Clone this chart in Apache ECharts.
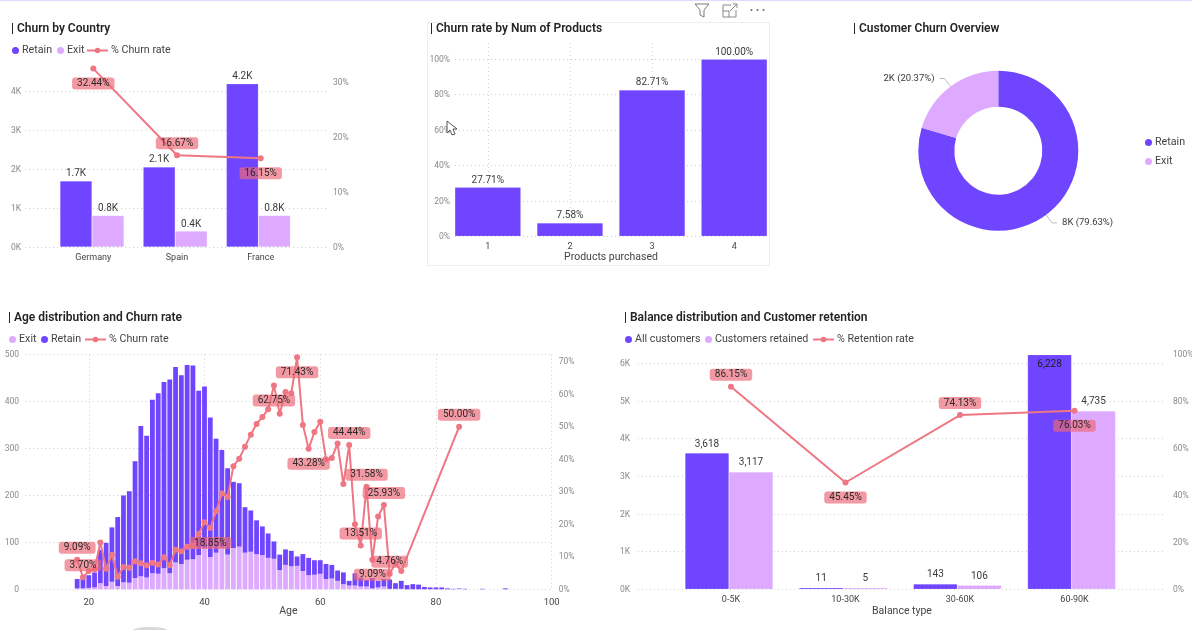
<!DOCTYPE html>
<html><head><meta charset="utf-8">
<style>html,body{margin:0;padding:0;background:#fff}#c{width:1192px;height:630px}</style>
<script src="https://cdn.jsdelivr.net/npm/echarts@6/dist/echarts.min.js"></script>
</head><body><div id="c"></div>
<script>
// ---- data ----
const countries = ['Germany','Spain','France'];
const countryRetain = [1700,2060,4200];
const countryExit = [810,410,810];
const countryChurn = [32.44,16.67,16.15];

const products = ['1','2','3','4'];
const productChurn = [27.71,7.58,82.71,100];

const overviewNames = ['Retain','Exit'];
const overviewValues = [7963,2037];
const overviewLabels = ['8K (79.63%)','2K (20.37%)'];

const ages = [18,19,20,21,22,23,24,25,26,27,28,29,30,31,32,33,34,35,36,37,38,39,40,41,42,43,44,45,46,47,48,49,50,51,52,53,54,55,56,57,58,59,60,61,62,63,64,65,66,67,68,69,70,71,72,73,74,75,76,77,78,79,80,81,82,83,84,85,86,87,88,89,90,91,92];
const ageExit = [2,2,3,4,13,7,16,7,15,14,24,28,25,34,33,45,34,57,54,63,64,73,88,69,78,89,74,88,91,78,80,75,73,67,65,41,52,49,50,39,30,31,33,22,23,18,11,8,8,6,6,2,4,6,1,1,1,0,0,0,0,0,0,0,0,0,1,0,0,0,0,0,0,0,0];
const ageRetain = [20,20,27,32,71,92,116,147,185,195,249,320,302,370,385,397,413,417,402,415,413,350,344,297,243,208,184,141,135,97,88,72,61,52,37,33,33,33,20,36,37,31,29,32,29,22,25,10,26,19,14,22,14,16,20,12,17,9,11,10,5,4,4,4,2,1,1,1,0,0,1,0,0,0,2];
const ageChurn = [9.09,3.70,5.6,6.2,14.4,6.3,10.6,3.9,6.9,6.6,8.6,8.0,7.4,8.2,7.6,9.9,7.4,12.2,11.7,13.1,13.4,17.0,20.6,18.85,24.0,29.5,28.4,37.9,40.2,43.9,47.6,50.9,53.0,55.4,62.75,54.0,60.7,60.3,71.43,50.6,43.28,48.4,51.6,40.0,40.4,44.9,32.4,44.44,20.0,13.51,31.58,9.09,22.4,25.93,4.76,8.0,5.6,null,null,null,null,null,null,null,null,null,50.0,null,null,null,null,null,null,null,null];
const ageTicks = ['20','40','60','80','100'];

const balanceTypes = ['0-5K','10-30K','30-60K','60-90K'];
const balanceAll = [3618,11,143,6228];
const balanceRetained = [3117,5,106,4735];
const balanceRate = [86.15,45.45,74.13,76.03];

// ---- label placement ----
const countryLabelPos = ['bottom','top','bottom'];
const balanceLabelPos = ['top','bottom','top','bottom'];
const ageLabelPos = {18:'top',19:'top',41:'bottom',52:'bottom',56:'bottom',58:'bottom',65:'top',67:'top',68:'top',69:'bottom',71:'top',72:'top',84:'top'};

// ---- style ----
const PURPLE='#7045FF', LILAC='#DDAAFF', RED='#EF7683';
const FONT='Roboto, "Open Sans", sans-serif';
const dotted={type:[1,3],color:'#cfcfcf',width:1};
const pct=v=>v+'%';
const rateLabel={color:'#2a2a2a',fontSize:10,fontFamily:FONT,backgroundColor:'rgba(238,105,120,0.68)',borderRadius:3,padding:[1,5],formatter:p=>p.value[1].toFixed(2)+'%'};
const pointLabel=pos=>({show:true,position:pos,distance:pos==='top'?3:6});

const grid=[
 {left:25,right:1192-327,top:60,height:187,outerBoundsMode:'none'},
 {left:455,right:1192-767,top:43,height:193.3,outerBoundsMode:'none'},
 {left:25.1,right:1192-551.7,top:354.7,height:234.6,outerBoundsMode:'none'},
 {left:638,right:1192-1166,top:354.3,height:235,outerBoundsMode:'none'}
];
function xCat(g,min,max,names,extra){
  return Object.assign({type:'value',gridIndex:g,min,max,
    axisLine:{show:false},axisTick:{show:false,customValues:names.map((_,i)=>i)},splitLine:{show:false},
    axisLabel:{customValues:names.map((_,i)=>i),formatter:v=>names[v],color:'#444',fontSize:9,fontFamily:FONT,margin:6,hideOverlap:false}},extra||{});
}
const hiddenX=(g,min,max)=>({type:'value',gridIndex:g,min,max,show:false});
function yVal(g,max,interval,fmt,split,margin){
  return {type:'value',gridIndex:g,min:0,max,interval,position:split?'left':'right',
    axisLine:{show:false},axisTick:{show:false},
    splitLine:{show:split,lineStyle:dotted,showMaxLine:false},
    axisLabel:{formatter:fmt,color:'#8a8a8a',fontSize:8.5,fontFamily:FONT,margin:margin,showMaxLabel:false,verticalAlign:'top',padding:[-4,0,0,0]}};
}
const kFmt=v=>(v/1000)+'K';
const axisName={color:'#444',fontSize:10.5,fontFamily:FONT};
const ageAxisValues=Array.from({length:92},(_,i)=>String(9+i));
const isAgeTick=(i,v)=>ageTicks.indexOf(v)>=0;
const xAxis=[
 xCat(0,-0.816,2.792,countries),
 xCat(1,-0.4,3.4,products,{splitLine:{show:true,lineStyle:dotted},name:'Products purchased',nameLocation:'middle',nameGap:16,nameTextStyle:axisName}),
 {type:'category',gridIndex:2,data:ageAxisValues,boundaryGap:false,axisLine:{show:false},axisTick:{show:false},
  splitLine:{show:true,lineStyle:dotted,interval:isAgeTick},
  axisLabel:{interval:isAgeTick,color:'#444',fontSize:9.5,fontFamily:FONT,margin:8},
  name:'Age',nameLocation:'middle',nameGap:17,nameMoveOverlap:false,nameTextStyle:axisName},
 xCat(3,-0.812,3.799,balanceTypes,{name:'Balance type',nameLocation:'middle',nameGap:17,nameTextStyle:axisName}),
 hiddenX(0,-0.805,2.825),
 hiddenX(3,-0.797,3.827)
];
const yAxis=[
 yVal(0,4813,1000,kFmt,true,4),
 yVal(0,34,10,pct,false,6),
 yVal(1,109.2,20,pct,true,5),
 yVal(2,500,100,v=>v,true,6),
 yVal(2,72.2,10,pct,false,7),
 yVal(3,6238,1000,kFmt,true,8),
 yVal(3,100,20,pct,false,7)
];
yAxis[3].axisLabel.showMaxLabel=true;
yAxis[3].splitLine.showMaxLine=true;
yAxis[6].axisLabel.showMaxLabel=true;

function bar(name,x,y,data,color,width,lab){
  return {type:'bar',name,xAxisIndex:x,yAxisIndex:y,data,barWidth:width,barGap:0,
    itemStyle:{color,borderColor:'rgba(255,255,255,0.35)',borderWidth:0.5},
    label:lab?Object.assign({show:true,position:'top',color:'#3a3a3a',fontSize:10,fontFamily:FONT,distance:2},lab):{show:false},
    emphasis:{disabled:true},animation:false};
}
function line(name,x,y,data,extra){
  return Object.assign({type:'line',name,xAxisIndex:x,yAxisIndex:y,data,symbol:'circle',symbolSize:6,showSymbol:true,showAllSymbol:true,z:10,
    lineStyle:{color:RED,width:2},itemStyle:{color:RED},emphasis:{disabled:true},animation:false},extra||{});
}
const kLabel={formatter:p=>(p.value[1]/1000).toFixed(1)+'K'};
const pctLabel={formatter:p=>p.value[1].toFixed(2)+'%'};
const numLabel={distance:4,formatter:p=>p.value[1].toLocaleString('en-US')};

const series=[
 bar('Retain',4,0,countryRetain.map((v,i)=>[i,v]),PURPLE,32,kLabel),
 bar('Exit',4,0,countryExit.map((v,i)=>[i,v]),LILAC,32,kLabel),
 line('% Churn rate',0,1,countryChurn.map((v,i)=>({value:[i,v],label:pointLabel(countryLabelPos[i])})),{label:rateLabel}),

 bar('Churn rate',1,2,productChurn.map((v,i)=>[i,v]),PURPLE,66,pctLabel),

 {type:'pie',name:'Overview',center:[998.3,150.7],radius:[44,80],startAngle:90,animation:false,
  data:overviewNames.map((n,i)=>({name:n,value:overviewValues[i],itemStyle:{color:i?LILAC:PURPLE}})),
  label:{formatter:p=>overviewLabels[p.dataIndex],color:'#3a3a3a',fontSize:9.5,fontFamily:FONT},
  labelLine:{length:10,length2:5,lineStyle:{color:'#bdbdbd'}},emphasis:{disabled:true}},

 Object.assign(bar('Exit',2,3,ages.map((a,i)=>[String(a),ageExit[i]]),LILAC,4.8),{stack:'age',itemStyle:{color:LILAC}}),
 Object.assign(bar('Retain',2,3,ages.map((a,i)=>[String(a),ageRetain[i]]),PURPLE,4.8),{stack:'age',itemStyle:{color:PURPLE}}),
 line('% Churn rate',2,4,ages.map((a,i)=>{
    const pos=ageLabelPos[a];
    return pos?{value:[String(a),ageChurn[i]],label:pointLabel(pos)}:{value:[String(a),ageChurn[i]]};
  }),{connectNulls:true,label:rateLabel}),

 Object.assign(bar('All customers',5,5,balanceAll.map((v,i)=>({value:[i,v],label:i===3?{position:'insideTop',color:'#1f1f1f',distance:5}:undefined})),PURPLE,44,numLabel),{barMinHeight:1.5}),
 Object.assign(bar('Customers retained',5,5,balanceRetained.map((v,i)=>[i,v]),LILAC,44,numLabel),{barMinHeight:1.5}),
 line('% Retention rate',3,6,balanceRate.map((v,i)=>({value:[i,v],label:pointLabel(balanceLabelPos[i])})),{label:rateLabel})
];

const legTxt={color:'#444',fontSize:10.7,fontFamily:FONT,padding:[0,0,0,-2]};
const legendDot=(left,top,name)=>({left,top,data:[{name,icon:'circle'}],itemWidth:7,itemHeight:7,padding:0,textStyle:legTxt,selectedMode:false,itemStyle:{borderWidth:0}});
const legendLine=(left,top,name)=>({left,top,data:[name],itemWidth:21,itemHeight:7,padding:0,textStyle:legTxt,selectedMode:false});
const legend=[
 legendDot(12,45,'Retain'),legendDot(57,45,'Exit'),legendLine(86,45,'% Churn rate'),
 legendDot(9,334,'Exit'),legendDot(41,334,'Retain'),legendLine(84,334,'% Churn rate'),
 legendDot(625,334,'All customers'),legendDot(705,334,'Customers retained'),legendLine(812,334,'% Retention rate'),
 legendDot(1145,137,'Retain'),legendDot(1145,156,'Exit')
];
const ttl=(text,left,top)=>({text,left,top,padding:0,textStyle:{color:'#252423',fontSize:12,fontWeight:600,fontFamily:FONT}});
const title=[
 ttl('| Churn by Country',11,23),ttl('| Churn rate by Num of Products',430,23),ttl('| Customer Churn Overview',853,23),
 ttl('| Age distribution and Churn rate',8,312),ttl('| Balance distribution and Customer retention',624,312)
];
const graphic=[
 {type:'rect',z:-1,shape:{x:0,y:0,width:1192,height:1},style:{fill:'#DEDAFB'},silent:true},
 {type:'rect',z:-1,shape:{x:427.5,y:22.5,width:342,height:243},style:{fill:'#fff',stroke:'#EEEEEE',lineWidth:1},silent:true},
 {type:'polyline',shape:{points:[[695,4],[709,4],[704,10],[704,17],[700,15],[700,10],[695,4]]},style:{fill:'none',stroke:'#7a7a7a',lineWidth:1},silent:true},
 {type:'polyline',shape:{points:[[731,5],[723,5],[723,17],[736,17],[736,10]]},style:{fill:'none',stroke:'#8a8a8a',lineWidth:1},silent:true},
 {type:'polyline',shape:{points:[[723,11],[729,11],[729,17]]},style:{fill:'none',stroke:'#8a8a8a',lineWidth:1},silent:true},
 {type:'polyline',shape:{points:[[730,11],[737,4]]},style:{fill:'none',stroke:'#8a8a8a',lineWidth:1},silent:true},
 {type:'polyline',shape:{points:[[733,4],[737,4],[737,8]]},style:{fill:'none',stroke:'#8a8a8a',lineWidth:1},silent:true},
 {type:'circle',shape:{cx:751.5,cy:10,r:1},style:{fill:'#666'},silent:true},
 {type:'circle',shape:{cx:757.5,cy:10,r:1},style:{fill:'#666'},silent:true},
 {type:'circle',shape:{cx:763.5,cy:10,r:1},style:{fill:'#666'},silent:true},
 {type:'polygon',z:50,shape:{points:[[447,121],[447,133],[450,130],[452,135],[455,134],[453,129],[457,129]]},style:{fill:'#fff',stroke:'#555',lineWidth:1},silent:true},
 {type:'ellipse',shape:{cx:150,cy:631,rx:18,ry:4},style:{fill:'#d8d8d8'},silent:true}
];
const chart=echarts.init(document.getElementById('c'),null,{renderer:'canvas'});
chart.setOption({animation:false,textStyle:{fontFamily:FONT},title,legend,grid,xAxis,yAxis,series,graphic,tooltip:{show:false}});
</script></body></html>
